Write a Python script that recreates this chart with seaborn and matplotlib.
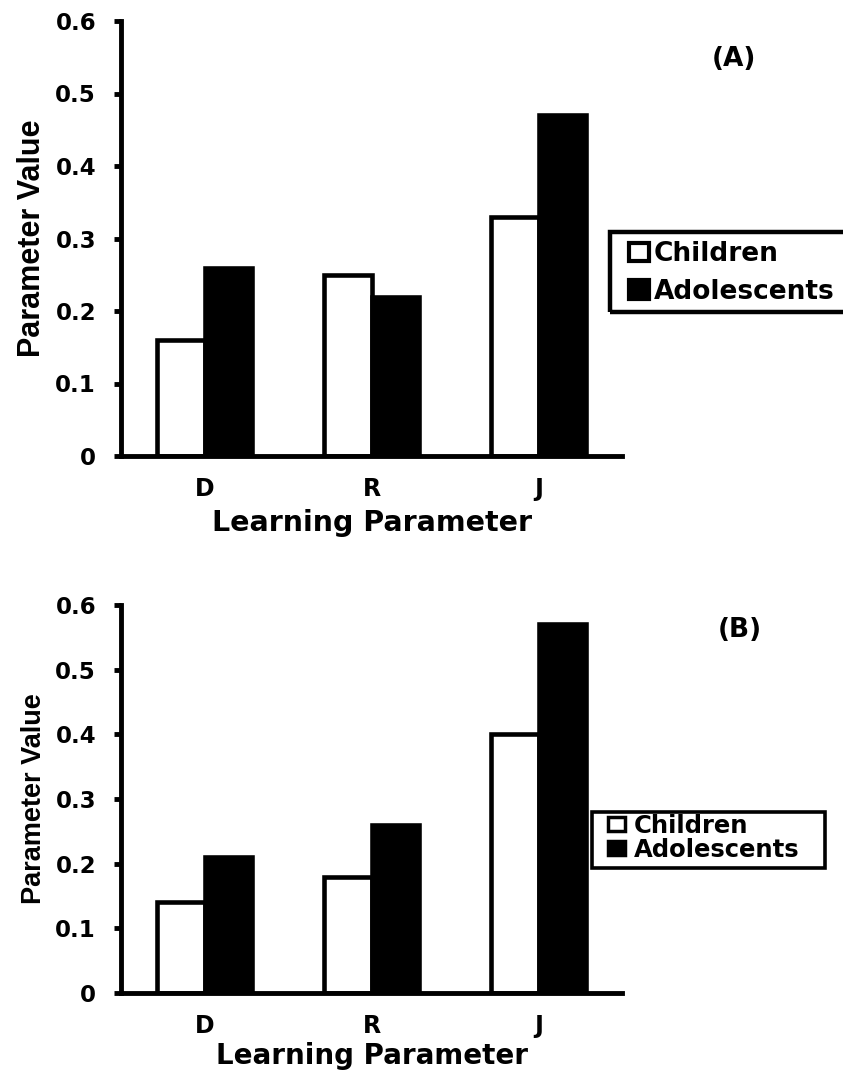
import matplotlib
matplotlib.use("Agg")
import matplotlib.pyplot as plt
from matplotlib.patches import Patch, Rectangle
import seaborn as sns
import pandas as pd

# Learning-model parameters, children vs adolescents
parameters = ["D", "R", "J"]
groups = ["Children", "Adolescents"]
children_a = [0.16, 0.25, 0.33]
adolescents_a = [0.26, 0.22, 0.47]
children_b = [0.14, 0.18, 0.40]
adolescents_b = [0.21, 0.26, 0.57]
y_ticks = [0, 0.1, 0.2, 0.3, 0.4, 0.5, 0.6]
y_tick_labels = ["0", "0.1", "0.2", "0.3", "0.4", "0.5", "0.6"]
panel_labels = ["(A)", "(B)"]

sns.set_style("ticks")
plt.rcParams["font.family"] = ["DejaVu Sans"]
plt.rcParams["font.weight"] = "bold"
plt.rcParams["text.color"] = "black"
plt.rcParams["axes.labelcolor"] = "black"
plt.rcParams["xtick.color"] = "black"
plt.rcParams["ytick.color"] = "black"

colors = {"Children": "white", "Adolescents": "black"}

W, H = 843, 1072
fig = plt.figure(figsize=(W / 100, H / 100), dpi=100)


def fx(px):
    return px / W


def fy(py):
    return 1 - py / H


def frac_box(left, right, top, bottom):
    return [left / W, 1 - bottom / H, (right - left) / W, (bottom - top) / H]


def make_frame(children, adolescents):
    return pd.DataFrame({
        "parameter": parameters * 2,
        "group": [groups[0]] * 3 + [groups[1]] * 3,
        "value": list(children) + list(adolescents),
    })


def draw_panel(ax, df, label, label_xy, cfg):
    sns.barplot(data=df, x="parameter", y="value", hue="group",
                order=parameters, hue_order=groups, palette=colors,
                edgecolor="black", linewidth=3.3, width=0.57,
                saturation=1, legend=False, ax=ax)
    ax.set_xlim(-0.5, 2.5)
    ax.set_ylim(0, 0.6)
    ax.set_yticks(y_ticks)
    ax.set_yticklabels(y_tick_labels, fontsize=16.5, fontweight="bold")
    ax.set_xticks(range(len(parameters)))
    ax.set_xticklabels(parameters, fontsize=17, fontweight="bold")
    for side in ("top", "right"):
        ax.spines[side].set_visible(False)
    for side in ("left", "bottom"):
        ax.spines[side].set_linewidth(3.5)
        ax.spines[side].set_color("black")
    ax.tick_params(axis="y", direction="out", length=5, width=3.5, pad=13)
    ax.tick_params(axis="x", length=0, pad=15)
    ax.set_xlabel("Learning Parameter", fontsize=cfg["xlabel_size"],
                  fontweight="bold", labelpad=cfg["xlabel_pad"])
    ax.set_ylabel("Parameter Value", fontsize=cfg["ylabel_size"],
                  fontweight="bold", family="Liberation Sans")
    ax.yaxis.set_label_coords(-0.148, 0.5)

    # legend entries, with a separately drawn rectangular frame
    handles = [Patch(facecolor=colors[g], edgecolor="black",
                     linewidth=cfg["handle_lw"], label=g) for g in groups]
    leg = fig.legend(handles=handles, loc="upper left",
                     bbox_to_anchor=(fx(cfg["anchor"][0]), fy(cfg["anchor"][1])),
                     bbox_transform=fig.transFigure, borderaxespad=0,
                     borderpad=0, fontsize=cfg["legend_size"], frameon=False,
                     handlelength=cfg["handle_len"],
                     handleheight=cfg["handle_h"],
                     handletextpad=cfg["text_pad"],
                     labelspacing=cfg["spacing"])
    for t in leg.get_texts():
        t.set_fontweight("bold")
    l, r, t_, b = cfg["frame"]
    fig.patches.append(Rectangle((fx(l), fy(b)), fx(r) - fx(l), fy(t_) - fy(b),
                                 transform=fig.transFigure, fill=False,
                                 edgecolor="black", linewidth=cfg["frame_lw"]))

    fig.text(fx(label_xy[0]), fy(label_xy[1]), label, fontsize=19,
             fontweight="bold", ha="center", va="center")


ax_a = fig.add_axes(frac_box(121, 622, 21, 456))
draw_panel(ax_a, make_frame(children_a, adolescents_a), panel_labels[0],
           (734, 59),
           {"anchor": (629, 241), "legend_size": 19, "spacing": 0.45,
            "handle_len": 0.75, "handle_h": 0.7, "handle_lw": 3,
            "text_pad": 0.2,
            "frame": (610, 870, 232, 312), "frame_lw": 3.2,
            "ylabel_size": 22, "xlabel_size": 20.5, "xlabel_pad": 6})

ax_b = fig.add_axes(frac_box(121, 622, 605, 993))
draw_panel(ax_b, make_frame(children_b, adolescents_b), panel_labels[1],
           (740, 630),
           {"anchor": (608, 814), "legend_size": 17.5, "spacing": 0.0,
            "handle_len": 0.7, "handle_h": 0.5, "handle_lw": 2.5,
            "text_pad": 0.35,
            "frame": (592, 825, 812, 868), "frame_lw": 2.6,
            "ylabel_size": 19.5, "xlabel_size": 20, "xlabel_pad": 3})

fig.savefig("out.png", dpi=100)
